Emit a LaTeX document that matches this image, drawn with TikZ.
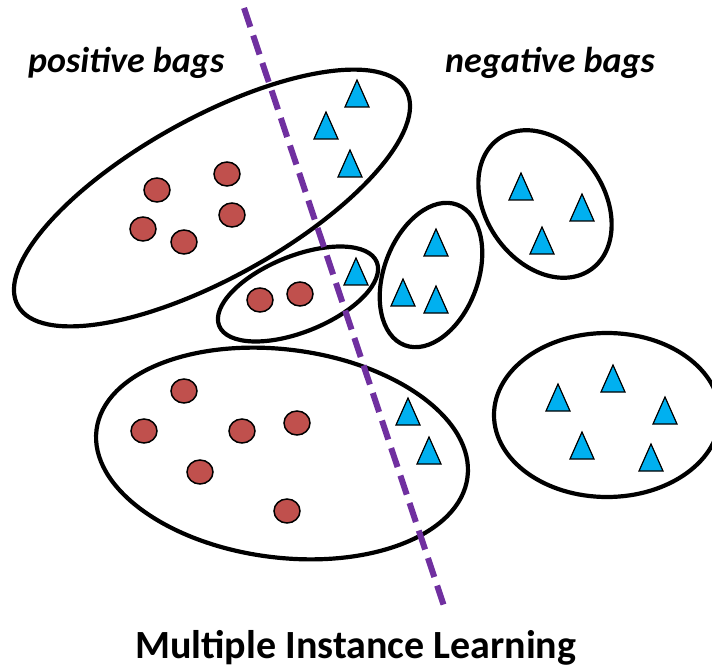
\documentclass[tikz,border=0pt]{standalone}
\usepackage{fontspec}
\setmainfont{Carlito}
\definecolor{bagred}{HTML}{C0504D}
\definecolor{bagblue}{HTML}{00B0F0}
\definecolor{linepurple}{HTML}{7030A0}
\tikzset{
  bag/.style={draw=black, line width=4.2pt},
  inst/.style={draw=black, fill=bagred, line width=1.5pt},
  tri/.style={draw=black, fill=bagblue, line width=1.2pt, line join=miter},
  sep/.style={draw=linepurple, line width=6pt, dash pattern=on 20pt off 9pt},
  lbl/.style={anchor=base west, inner sep=0pt, font=\fontsize{36}{40}\selectfont\bfseries\itshape},
  ttl/.style={anchor=base west, inner sep=0pt, font=\fontsize{40}{46}\selectfont\bfseries}
}
\newcommand{\mycirc}[2]{\draw[inst] (#1,#2) ellipse [x radius=13, y radius=12];}
\newcommand{\mytri}[2]{\draw[tri] ({#1-12},{#2+27}) -- (#1,#2) -- ({#1+12},{#2+27}) -- cycle;}
\begin{document}
\begin{tikzpicture}[x=1pt,y=-1pt]
\useasboundingbox (0,0) rectangle (712,668);
\begin{scope}
\clip (0,0) rectangle (712,668);
% bags
\draw[bag, rotate around={29:(212,198)}] (212,198) ellipse [x radius=222, y radius=80];
\draw[bag, rotate around={22:(298,294)}] (298,294) ellipse [x radius=85, y radius=38];
\draw[bag, rotate around={-7.3:(282,453.5)}] (282,453.5) ellipse [x radius=187, y radius=104];
\draw[bag, rotate around={69.5:(431,275)}] (431,275) ellipse [x radius=75, y radius=47];
\draw[bag, rotate around={-55:(545,204)}] (545,204) ellipse [x radius=80, y radius=59];
\draw[bag] (607,415) ellipse [x radius=113, y radius=82];
\end{scope}
% red instances
\mycirc{157}{190}\mycirc{227}{174}\mycirc{143}{229}\mycirc{184}{242}\mycirc{232}{215}
\mycirc{260}{300}\mycirc{300}{294}
\mycirc{184}{391}\mycirc{144}{431}\mycirc{242}{431}\mycirc{297}{423}\mycirc{200}{472}\mycirc{287}{511}
% blue instances
\mytri{357}{80}\mytri{326}{112}\mytri{350}{150}
\mytri{356}{258}
\mytri{436}{229}\mytri{403}{279}\mytri{436}{286}
\mytri{521}{173}\mytri{582}{194}\mytri{542}{227}
\mytri{408}{398}\mytri{429}{437}
\mytri{613}{365}\mytri{558}{384}\mytri{665}{397}\mytri{582}{432}\mytri{651}{444}
% separator
\coordinate (sepTop) at (244,8);
\coordinate (sepBot) at (446,612);
\draw[sep] (sepTop) -- (sepBot);
% labels
\node[lbl] (pos) at (28,73) {positive bags};
\node[lbl] (neg) at (445,73) {negative bags};
\node[ttl] (title) at (135,658) {Multiple Instance Learning};
\end{tikzpicture}
\end{document}
